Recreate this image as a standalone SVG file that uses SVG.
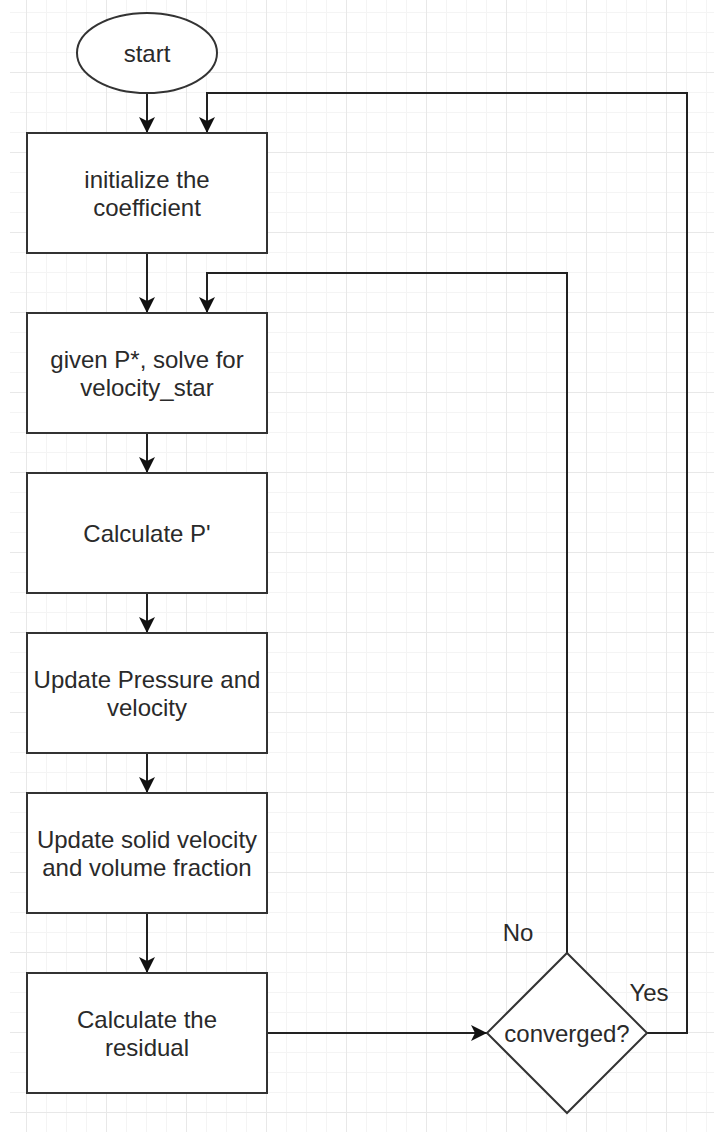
<svg xmlns="http://www.w3.org/2000/svg" width="714" height="1132" viewBox="0 0 714 1132">
<style>
.shape{fill:#fff;stroke:#333;stroke-width:2}
.conn{fill:none;stroke:#222;stroke-width:2}
.t{font-family:"Liberation Sans",Arial,sans-serif;font-size:24px;fill:#2a2a2a;text-anchor:middle}
</style>
<defs>
<pattern id="grid" patternUnits="userSpaceOnUse" x="26" y="-8" width="80" height="80">
<rect x="0" y="20" width="80" height="1" fill="#f4f4f4"/>
<rect x="0" y="40" width="80" height="1" fill="#f4f4f4"/>
<rect x="0" y="60" width="80" height="1" fill="#f4f4f4"/>
<rect x="20" y="0" width="1" height="80" fill="#f4f4f4"/>
<rect x="40" y="0" width="1" height="80" fill="#f4f4f4"/>
<rect x="60" y="0" width="1" height="80" fill="#f4f4f4"/>
<rect x="0" y="0" width="80" height="1" fill="#e8e8e8"/>
<rect x="0" y="0" width="1" height="80" fill="#e8e8e8"/>
</pattern>
<marker id="arr" markerUnits="userSpaceOnUse" markerWidth="16" markerHeight="16" viewBox="0 0 14 14" refX="14" refY="7" orient="auto">
<path d="M0,0 L14,7 L0,14 L3.5,7 Z" fill="#111"/>
</marker>
</defs>
<rect x="0" y="0" width="714" height="1132" fill="#fff"/>
<rect x="10" y="0" width="704" height="1132" fill="url(#grid)"/>

<g id="connectors">
<path class="conn" d="M147,93 V133" marker-end="url(#arr)"/>
<path class="conn" d="M147,253 V313" marker-end="url(#arr)"/>
<path class="conn" d="M147,433 V473" marker-end="url(#arr)"/>
<path class="conn" d="M147,593 V633" marker-end="url(#arr)"/>
<path class="conn" d="M147,753 V793" marker-end="url(#arr)"/>
<path class="conn" d="M147,913 V973" marker-end="url(#arr)"/>
<path class="conn" d="M267,1033 H487" marker-end="url(#arr)"/>
<path class="conn" d="M567,953 V273 H207 V313" marker-end="url(#arr)"/>
<path class="conn" d="M647,1033 H687 V93 H207 V133" marker-end="url(#arr)"/>
<text class="t" x="518" y="941">No</text>
<text class="t" x="649" y="1001">Yes</text>
</g>

<g id="start">
<ellipse class="shape" cx="147" cy="53" rx="70" ry="40"/>
<text class="t" x="147" y="62">start</text>
</g>
<g id="init">
<rect class="shape" x="27" y="133" width="240" height="120"/>
<text class="t" x="147" y="188">initialize the</text>
<text class="t" x="147" y="216">coefficient</text>
</g>
<g id="solve">
<rect class="shape" x="27" y="313" width="240" height="120"/>
<text class="t" x="147" y="368">given P*, solve for</text>
<text class="t" x="147" y="396">velocity_star</text>
</g>
<g id="calcp">
<rect class="shape" x="27" y="473" width="240" height="120"/>
<text class="t" x="147" y="542">Calculate P'</text>
</g>
<g id="update">
<rect class="shape" x="27" y="633" width="240" height="120"/>
<text class="t" x="147" y="688">Update Pressure and</text>
<text class="t" x="147" y="716">velocity</text>
</g>
<g id="solid">
<rect class="shape" x="27" y="793" width="240" height="120"/>
<text class="t" x="147" y="848">Update solid velocity</text>
<text class="t" x="147" y="876">and volume fraction</text>
</g>
<g id="residual">
<rect class="shape" x="27" y="973" width="240" height="120"/>
<text class="t" x="147" y="1028">Calculate the</text>
<text class="t" x="147" y="1056">residual</text>
</g>
<g id="converged">
<path class="shape" d="M567,953 L647,1033 L567,1113 L487,1033 Z"/>
<text class="t" x="567" y="1042">converged?</text>
</g>
</svg>
